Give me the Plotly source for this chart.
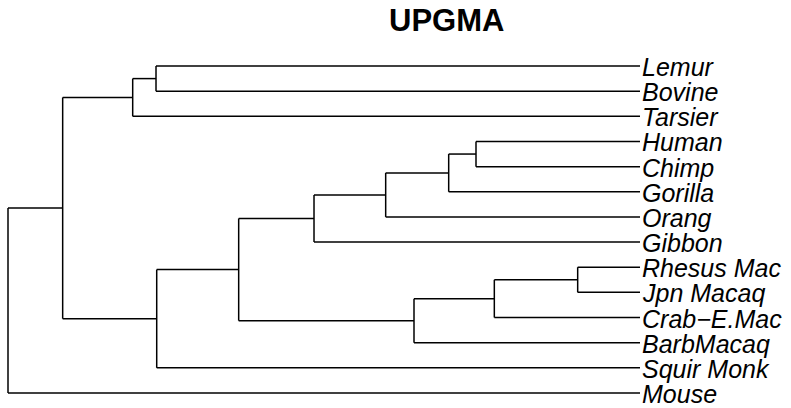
import plotly.graph_objects as go

# Tip labels, top to bottom
tips = ["Lemur", "Bovine", "Tarsier", "Human", "Chimp", "Gorilla", "Orang",
        "Gibbon", "Rhesus Mac", "Jpn Macaq", "Crab\u2212E.Mac", "BarbMacaq",
        "Squir Monk", "Mouse"]

# UPGMA merges (left child, right child, height above tips; root height = 1)
merge_left = ["Human", "n1", "n2", "n3", "Rhesus Mac", "n5", "n6", "n4", "n8",
              "Lemur", "n10", "n11", "n12"]
merge_right = ["Chimp", "Gorilla", "Orang", "Gibbon", "Jpn Macaq", "Crab\u2212E.Mac",
               "BarbMacaq", "n7", "Squir Monk", "Bovine", "Tarsier", "n9", "Mouse"]
merge_height = [0.2595, 0.3027, 0.4024, 0.5158, 0.0986, 0.2305, 0.3576, 0.635,
                0.7647, 0.7658, 0.8027, 0.9135, 1.0]

root_h = max(merge_height)
pos_y = {t: i for i, t in enumerate(tips)}
pos_x = {t: root_h for t in tips}  # tips at distance root_h from root
xs, ys = [], []
for i, (a, b, h) in enumerate(zip(merge_left, merge_right, merge_height)):
    name = "n%d" % (i + 1)
    nx = root_h - h
    ny = (pos_y[a] + pos_y[b]) / 2
    pos_x[name] = nx
    pos_y[name] = ny
    # vertical connector
    xs += [nx, nx, None]
    ys += [pos_y[a], pos_y[b], None]
    # horizontal branches to children
    for c in (a, b):
        xs += [nx, pos_x[c], None]
        ys += [pos_y[c], pos_y[c], None]

fig = go.Figure()
fig.add_trace(go.Scatter(x=xs, y=ys, mode="lines",
                         line=dict(color="black", width=1.5),
                         hoverinfo="skip", showlegend=False))

for t in tips:
    fig.add_annotation(x=pos_x[t], y=pos_y[t], text=t, showarrow=False,
                       xanchor="left", yanchor="middle", xshift=0, yshift=-1,
                       font=dict(family="Liberation Sans", size=25, color="black",
                                 style="italic"))

fig.add_annotation(xref="paper", yref="paper", x=(446 - 3) / 642, y=1,
                   yshift=41, text="<b>UPGMA</b>", showarrow=False,
                   xanchor="center", yanchor="middle",
                   font=dict(family="Liberation Sans", size=31, color="black"))

pad = 5 / 632
fig.update_layout(
    width=791, height=408,
    margin=dict(l=3, r=146, t=61, b=10),
    plot_bgcolor="white", paper_bgcolor="white",
    xaxis=dict(range=[-pad, root_h + pad], visible=False, fixedrange=True),
    yaxis=dict(range=[13.2, -0.2], visible=False, fixedrange=True),
    showlegend=False,
)
fig.write_html("out.html", config={"displayModeBar": False},
               post_script="document.body.style.margin='0';document.body.style.padding='0';")
